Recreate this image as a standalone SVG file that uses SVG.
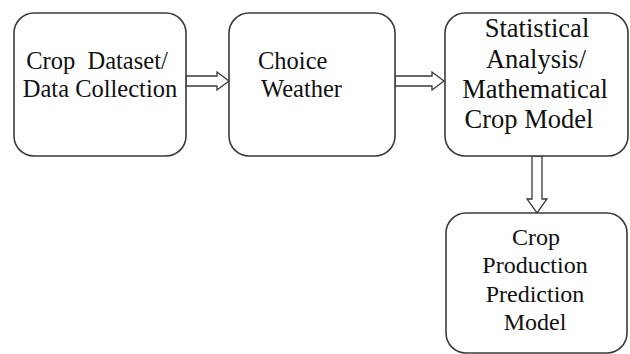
<svg xmlns="http://www.w3.org/2000/svg" width="630" height="354" viewBox="0 0 630 354">
<style>
.box{fill:#fff;stroke:#3a3a3a;stroke-width:1.6}
.arr{fill:#fff;stroke:#3a3a3a;stroke-width:1.3;stroke-linejoin:miter}
.t{font-family:'Liberation Serif','Times New Roman',serif;font-size:24.5px;fill:#111}
.big{font-size:26.5px}
.sm{font-size:24px}
.c{text-anchor:middle}
</style>
<rect width="630" height="354" fill="#fff"/>
<g id="connectors">
<polygon class="arr" points="186,76 217,76 217,72 229,81 217,90 217,86 186,86"/>
<polygon class="arr" points="395,76 432,76 432,72 444,81 432,90 432,86 395,86"/>
<polygon class="arr" points="532,156 532,199 527,199 537,213 547,199 542,199 542,156"/>
</g>
<g id="n1">
<rect class="box" x="14" y="13" width="172" height="143" rx="20"/>
<text class="t c" x="97" y="69" xml:space="preserve">Crop  Dataset/</text>
<text class="t c" x="100" y="97">Data Collection</text>
</g>
<g id="n2">
<rect class="box" x="229" y="13" width="166" height="143" rx="20"/>
<text class="t" x="258" y="69">Choice</text>
<text class="t" x="261" y="97">Weather</text>
</g>
<g id="n3">
<rect class="box" x="445" y="13" width="183" height="143" rx="20"/>
<text class="t big c" x="537" y="37">Statistical</text>
<text class="t big c" x="536" y="68">Analysis/</text>
<text class="t big c" x="535" y="98">Mathematical</text>
<text class="t big c" x="529" y="128">Crop Model</text>
</g>
<g id="n4">
<rect class="box" x="446" y="213" width="181" height="140" rx="20"/>
<text class="t sm c" x="536" y="245">Crop</text>
<text class="t sm c" x="535" y="273">Production</text>
<text class="t sm c" x="535" y="302">Prediction</text>
<text class="t sm c" x="535" y="330">Model</text>
</g>
</svg>
